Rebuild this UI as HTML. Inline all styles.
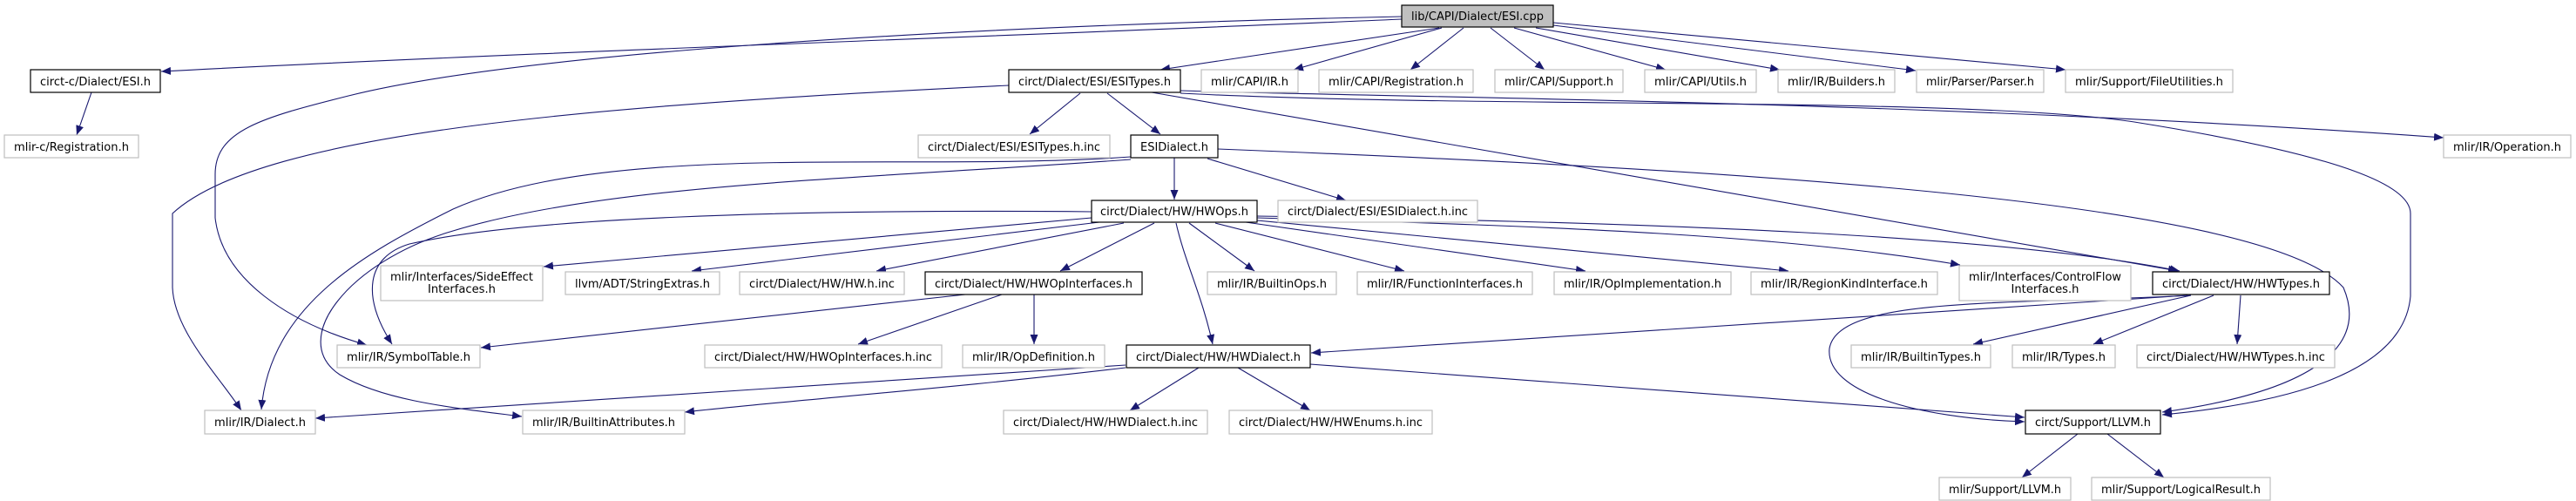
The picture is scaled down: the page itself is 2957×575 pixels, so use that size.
<!DOCTYPE html>
<html><head><meta charset="utf-8"><style>
html,body{margin:0;padding:0;background:#fff;}
svg{display:block;}
text{font-family:"DejaVu Sans","Liberation Sans",sans-serif;font-size:13px;fill:#000;}
.n{fill:#fff;stroke:#bfbfbf;stroke-width:1.2;}
.b{fill:#fff;stroke:#000;stroke-width:1.2;}
.g{fill:#bfbfbf;stroke:#000;stroke-width:1.2;}
.e{fill:none;stroke:#191970;stroke-width:1.1;marker-end:url(#a);}
</style></head><body>
<svg width="2957" height="575" viewBox="0 0 2957 575" xmlns="http://www.w3.org/2000/svg">
<defs><marker id="a" markerUnits="userSpaceOnUse" markerWidth="12" markerHeight="9" refX="11" refY="4.5" orient="auto"><path d="M0,0 L11,4.5 L0,9 z" fill="#191970"/></marker></defs>
<g>
<!-- edges from ESI.cpp -->
<path class="e" d="M1609,22 C1200,40 600,60 185,82"/>
<path class="e" d="M1609,19 C1100,30 600,60 400,110 C300,135 247,150 247,200 L247,250 C255,320 330,370 421,396"/>
<path class="e" d="M1652,32 L1332,80"/>
<path class="e" d="M1655,32 L1485,80"/>
<path class="e" d="M1680,32 L1619,80"/>
<path class="e" d="M1711,32 L1773,80"/>
<path class="e" d="M1738,32 L1912,80"/>
<path class="e" d="M1763,32 L2043,80"/>
<path class="e" d="M1783,29 L2199,81"/>
<path class="e" d="M1783,26 L2371,80"/>
<!-- ESI.h -->
<path class="e" d="M105,106 L88,155"/>
<!-- ESITypes.h -->
<path class="e" d="M1158,98 C700,120 300,150 198,245 L198,330 C200,380 250,430 277,471"/>
<path class="e" d="M1240,107 L1182,154"/>
<path class="e" d="M1271,107 L1332,154"/>
<path class="e" d="M1355,104 C1600,112 2200,115 2805,158"/>
<path class="e" d="M1355,107 C1700,125 2250,110 2450,140 C2700,180 2767,215 2767,245 L2767,340 C2760,420 2650,460 2482,476"/>
<path class="e" d="M1322,106 L2500,311"/>
<!-- ESIDialect.h -->
<path class="e" d="M1348,181 L1348,229"/>
<path class="e" d="M1386,182 L1545,230"/>
<path class="e" d="M1398,171 C2000,195 2600,230 2690,330 C2720,400 2650,450 2482,473"/>
<path class="e" d="M1298,180 C1050,198 700,160 520,240 C420,290 310,350 300,470"/>
<path class="e" d="M1298,183 C1000,205 700,210 520,265 C400,300 330,390 390,430 C440,460 520,468 599,478"/>
<!-- HWOps.h -->
<path class="e" d="M1253,243 C900,240 600,250 470,280 C420,295 415,340 450,395"/>
<path class="e" d="M1253,250 L624,306"/>
<path class="e" d="M1262,255 L794,311"/>
<path class="e" d="M1290,256 L1006,311"/>
<path class="e" d="M1325,256 L1217,311"/>
<path class="e" d="M1350,256 C1360,300 1380,340 1392,395"/>
<path class="e" d="M1365,256 L1440,311"/>
<path class="e" d="M1395,256 L1612,311"/>
<path class="e" d="M1430,255 L1820,311"/>
<path class="e" d="M1443,253 L2053,311"/>
<path class="e" d="M1443,250 C1800,260 2050,270 2250,304"/>
<path class="e" d="M1443,248 C1900,255 2300,270 2502,311"/>
<!-- HWOpInterfaces.h -->
<path class="e" d="M1108,338 L552,399"/>
<path class="e" d="M1150,338 L985,395"/>
<path class="e" d="M1187,338 L1187,395"/>
<!-- HWTypes.h -->
<path class="e" d="M2511,339 L1505,405"/>
<path class="e" d="M2515,339 C2300,350 2110,340 2100,400 C2095,450 2200,480 2324,484"/>
<path class="e" d="M2515,339 L2265,395"/>
<path class="e" d="M2541,339 L2403,395"/>
<path class="e" d="M2572,339 L2568,395"/>
<!-- HWDialect.h -->
<path class="e" d="M1376,422 L1297,471"/>
<path class="e" d="M1421,422 L1504,471"/>
<path class="e" d="M1292,419 C1000,440 700,460 362,480"/>
<path class="e" d="M1292,422 C1100,445 900,460 786,473"/>
<path class="e" d="M1504,418 C1800,440 2100,460 2324,479"/>
<!-- circt/Support/LLVM.h -->
<path class="e" d="M2385,498 L2321,548"/>
<path class="e" d="M2419,498 L2484,548"/>
</g>
<g>
<rect class="g" x="1609" y="6" width="174" height="25"/><text x="1696" y="23" text-anchor="middle" textLength="152" lengthAdjust="spacingAndGlyphs">lib/CAPI/Dialect/ESI.cpp</text>
<rect class="b" x="35" y="80" width="149" height="26"/><text x="109.5" y="98" text-anchor="middle" textLength="127" lengthAdjust="spacingAndGlyphs">circt-c/Dialect/ESI.h</text>
<rect class="n" x="5" y="155" width="154" height="26"/><text x="82" y="173" text-anchor="middle" textLength="132" lengthAdjust="spacingAndGlyphs">mlir-c/Registration.h</text>
<rect class="b" x="1158" y="80" width="197" height="26"/><text x="1256.5" y="98" text-anchor="middle" textLength="175" lengthAdjust="spacingAndGlyphs">circt/Dialect/ESI/ESITypes.h</text>
<rect class="n" x="1379" y="80" width="111" height="26"/><text x="1434.5" y="98" text-anchor="middle" textLength="89" lengthAdjust="spacingAndGlyphs">mlir/CAPI/IR.h</text>
<rect class="n" x="1514" y="80" width="177" height="26"/><text x="1602.5" y="98" text-anchor="middle" textLength="155" lengthAdjust="spacingAndGlyphs">mlir/CAPI/Registration.h</text>
<rect class="n" x="1716" y="80" width="147" height="26"/><text x="1789.5" y="98" text-anchor="middle" textLength="125" lengthAdjust="spacingAndGlyphs">mlir/CAPI/Support.h</text>
<rect class="n" x="1888" y="80" width="128" height="26"/><text x="1952" y="98" text-anchor="middle" textLength="106" lengthAdjust="spacingAndGlyphs">mlir/CAPI/Utils.h</text>
<rect class="n" x="2041" y="80" width="134" height="26"/><text x="2108" y="98" text-anchor="middle" textLength="112" lengthAdjust="spacingAndGlyphs">mlir/IR/Builders.h</text>
<rect class="n" x="2200" y="80" width="146" height="26"/><text x="2273" y="98" text-anchor="middle" textLength="124" lengthAdjust="spacingAndGlyphs">mlir/Parser/Parser.h</text>
<rect class="n" x="2371" y="80" width="192" height="26"/><text x="2467" y="98" text-anchor="middle" textLength="170" lengthAdjust="spacingAndGlyphs">mlir/Support/FileUtilities.h</text>
<rect class="n" x="2805" y="155" width="146" height="26"/><text x="2878" y="173" text-anchor="middle" textLength="124" lengthAdjust="spacingAndGlyphs">mlir/IR/Operation.h</text>
<rect class="n" x="1054" y="155" width="220" height="26"/><text x="1164" y="173" text-anchor="middle" textLength="198" lengthAdjust="spacingAndGlyphs">circt/Dialect/ESI/ESITypes.h.inc</text>
<rect class="b" x="1298" y="155" width="100" height="26"/><text x="1348" y="173" text-anchor="middle" textLength="78" lengthAdjust="spacingAndGlyphs">ESIDialect.h</text>
<rect class="b" x="1253" y="230" width="190" height="25"/><text x="1348" y="247" text-anchor="middle" textLength="170" lengthAdjust="spacingAndGlyphs">circt/Dialect/HW/HWOps.h</text>
<rect class="n" x="1467" y="230" width="229" height="25"/><text x="1581.5" y="247" text-anchor="middle" textLength="207" lengthAdjust="spacingAndGlyphs">circt/Dialect/ESI/ESIDialect.h.inc</text>
<rect class="n" x="437" y="305" width="186" height="40"/><text x="530" y="322" text-anchor="middle" textLength="164" lengthAdjust="spacingAndGlyphs">mlir/Interfaces/SideEffect</text><text x="530" y="336" text-anchor="middle" textLength="78" lengthAdjust="spacingAndGlyphs">Interfaces.h</text>
<rect class="n" x="649" y="312" width="177" height="26"/><text x="737.5" y="330" text-anchor="middle" textLength="155" lengthAdjust="spacingAndGlyphs">llvm/ADT/StringExtras.h</text>
<rect class="n" x="849" y="312" width="189" height="26"/><text x="943.5" y="330" text-anchor="middle" textLength="167" lengthAdjust="spacingAndGlyphs">circt/Dialect/HW/HW.h.inc</text>
<rect class="b" x="1062" y="312" width="249" height="26"/><text x="1186.5" y="330" text-anchor="middle" textLength="227" lengthAdjust="spacingAndGlyphs">circt/Dialect/HW/HWOpInterfaces.h</text>
<rect class="n" x="1386" y="312" width="148" height="26"/><text x="1460" y="330" text-anchor="middle" textLength="126" lengthAdjust="spacingAndGlyphs">mlir/IR/BuiltinOps.h</text>
<rect class="n" x="1558" y="312" width="201" height="26"/><text x="1658.5" y="330" text-anchor="middle" textLength="179" lengthAdjust="spacingAndGlyphs">mlir/IR/FunctionInterfaces.h</text>
<rect class="n" x="1784" y="312" width="203" height="26"/><text x="1885.5" y="330" text-anchor="middle" textLength="181" lengthAdjust="spacingAndGlyphs">mlir/IR/OpImplementation.h</text>
<rect class="n" x="2010" y="312" width="214" height="26"/><text x="2117" y="330" text-anchor="middle" textLength="192" lengthAdjust="spacingAndGlyphs">mlir/IR/RegionKindInterface.h</text>
<rect class="n" x="2249" y="305" width="197" height="40"/><text x="2347.5" y="322" text-anchor="middle" textLength="175" lengthAdjust="spacingAndGlyphs">mlir/Interfaces/ControlFlow</text><text x="2347.5" y="336" text-anchor="middle" textLength="78" lengthAdjust="spacingAndGlyphs">Interfaces.h</text>
<rect class="b" x="2471" y="312" width="203" height="26"/><text x="2572.5" y="330" text-anchor="middle" textLength="181" lengthAdjust="spacingAndGlyphs">circt/Dialect/HW/HWTypes.h</text>
<rect class="n" x="387" y="396" width="164" height="26"/><text x="469" y="414" text-anchor="middle" textLength="142" lengthAdjust="spacingAndGlyphs">mlir/IR/SymbolTable.h</text>
<rect class="n" x="809" y="396" width="272" height="26"/><text x="945" y="414" text-anchor="middle" textLength="250" lengthAdjust="spacingAndGlyphs">circt/Dialect/HW/HWOpInterfaces.h.inc</text>
<rect class="n" x="1105" y="396" width="163" height="26"/><text x="1186.5" y="414" text-anchor="middle" textLength="141" lengthAdjust="spacingAndGlyphs">mlir/IR/OpDefinition.h</text>
<rect class="b" x="1293" y="396" width="211" height="26"/><text x="1398.5" y="414" text-anchor="middle" textLength="189" lengthAdjust="spacingAndGlyphs">circt/Dialect/HW/HWDialect.h</text>
<rect class="n" x="2125" y="396" width="160" height="26"/><text x="2205" y="414" text-anchor="middle" textLength="138" lengthAdjust="spacingAndGlyphs">mlir/IR/BuiltinTypes.h</text>
<rect class="n" x="2310" y="396" width="118" height="26"/><text x="2369" y="414" text-anchor="middle" textLength="96" lengthAdjust="spacingAndGlyphs">mlir/IR/Types.h</text>
<rect class="n" x="2453" y="396" width="227" height="26"/><text x="2566.5" y="414" text-anchor="middle" textLength="205" lengthAdjust="spacingAndGlyphs">circt/Dialect/HW/HWTypes.h.inc</text>
<rect class="n" x="235" y="471" width="127" height="27"/><text x="298.5" y="489" text-anchor="middle" textLength="105" lengthAdjust="spacingAndGlyphs">mlir/IR/Dialect.h</text>
<rect class="n" x="600" y="471" width="186" height="27"/><text x="693" y="489" text-anchor="middle" textLength="164" lengthAdjust="spacingAndGlyphs">mlir/IR/BuiltinAttributes.h</text>
<rect class="n" x="1152" y="471" width="234" height="27"/><text x="1269" y="489" text-anchor="middle" textLength="212" lengthAdjust="spacingAndGlyphs">circt/Dialect/HW/HWDialect.h.inc</text>
<rect class="n" x="1411" y="471" width="233" height="27"/><text x="1527.5" y="489" text-anchor="middle" textLength="211" lengthAdjust="spacingAndGlyphs">circt/Dialect/HW/HWEnums.h.inc</text>
<rect class="b" x="2325" y="471" width="155" height="27"/><text x="2402.5" y="489" text-anchor="middle" textLength="133" lengthAdjust="spacingAndGlyphs">circt/Support/LLVM.h</text>
<rect class="n" x="2226" y="548" width="151" height="26"/><text x="2301.5" y="566" text-anchor="middle" textLength="129" lengthAdjust="spacingAndGlyphs">mlir/Support/LLVM.h</text>
<rect class="n" x="2401" y="548" width="205" height="26"/><text x="2503.5" y="566" text-anchor="middle" textLength="183" lengthAdjust="spacingAndGlyphs">mlir/Support/LogicalResult.h</text>
</g>
</svg>
</body></html>
